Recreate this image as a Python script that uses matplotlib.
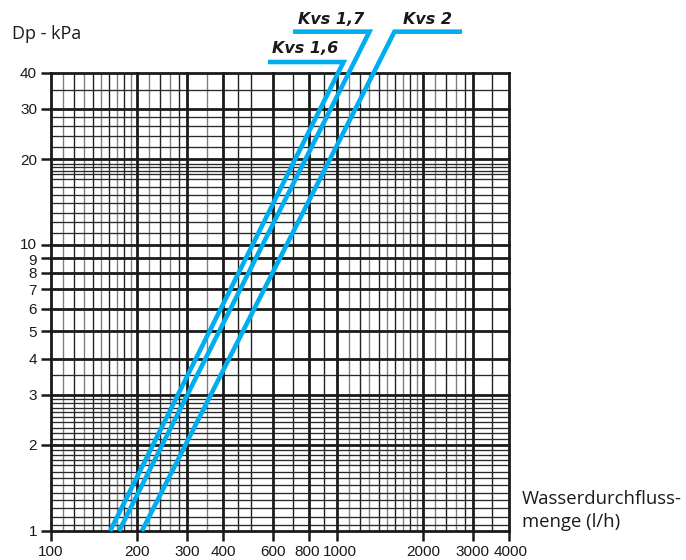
import matplotlib
matplotlib.use("Agg")
import matplotlib.pyplot as plt
import matplotlib.transforms as mtransforms

# ---- data ----
x_ticks = [100, 200, 300, 400, 600, 800, 1000, 2000, 3000, 4000]
y_ticks = [1, 2, 3, 4, 5, 6, 7, 8, 9, 10, 20, 30, 40]

x_minor_dark = [120, 140, 160, 180, 240, 280, 450, 500, 700, 900,
                1200, 1400, 1600, 1800, 2400, 2800, 3500]
x_minor_gray = [110, 130, 150, 170, 190, 220, 260, 350,
                1100, 1300, 1500, 1700, 1900, 2200, 2600]
y_minor = [1.05, 1.12, 1.2, 1.28, 1.36, 1.45, 1.53, 1.61, 1.7, 1.77, 1.84, 1.92,
           2.1, 2.2, 2.3, 2.4, 2.5, 2.6, 2.7, 2.8, 2.9, 3.5,
           11, 12, 13, 14, 15, 16, 17, 17.7, 18.2, 18.7, 19.2,
           22, 24, 26, 28, 35]

series_names = ["Kvs 1,6", "Kvs 1,7", "Kvs 2"]
# curve from Dp=1 to top, then leader corner and leader end
flow_16 = [161, 1055, 574]
dp_16 = [1, 43.7, 43.7]
flow_17 = [173, 1300, 702]
dp_17 = [1, 55.8, 55.8]
flow_2 = [208, 1590, 2740]
dp_2 = [1, 55.8, 55.8]
label_pos_q = [593, 731, 1703]
label_pos_dp = [47, 59.4, 59.4]

W, H = 686, 560
fig = plt.figure(figsize=(W / 100, H / 100), dpi=100)
ax = fig.add_axes([51 / W, 29 / H, 458 / W, 458 / H])
ax.set_xscale("log")
ax.set_yscale("log")
ax.set_xlim(100, 4000)
ax.set_ylim(1, 40)
for s in ax.spines.values():
    s.set_visible(False)

# grid
for v in x_minor_gray:
    ax.axvline(v, color="#808080", lw=1.0, zorder=1)
for v in x_minor_dark:
    ax.axvline(v, color="#222222", lw=1.0, zorder=1)
for v in y_minor:
    ax.axhline(v, color="#2a2a2a", lw=0.95, zorder=1)
for v in x_ticks:
    ax.axvline(v, color="#1a1a1a", lw=2.0, zorder=2, clip_on=False)
for v in y_ticks:
    ax.axhline(v, color="#1a1a1a", lw=2.0, zorder=2, clip_on=False)

# ticks
ax.set_xticks(x_ticks)
ax.set_xticklabels([str(v) for v in x_ticks])
ax.set_yticks(y_ticks)
ax.set_yticklabels([str(v) for v in y_ticks])
ax.minorticks_off()
ax.tick_params(axis="both", direction="out", length=7, width=1.8,
               color="#1a1a1a", labelsize=11, pad=3)
for lab in ax.get_xticklabels() + ax.get_yticklabels():
    lab.set_fontfamily("Liberation Sans")
    lab.set_color("#1a1a1a")

# small nudges for crowded labels
nudge = {"800": -2, "1000": 3, "3000": -1, "4000": 2}
for lab in ax.get_xticklabels():
    dx = nudge.get(lab.get_text(), 0)
    if dx:
        lab.set_transform(lab.get_transform() +
                          mtransforms.ScaledTranslation(dx / 100, 0, fig.dpi_scale_trans))
ynudge = {"9": -1.5, "10": 1.5}
for lab in ax.get_yticklabels():
    dy = ynudge.get(lab.get_text(), 0)
    if dy:
        lab.set_transform(lab.get_transform() +
                          mtransforms.ScaledTranslation(0, dy / 100, fig.dpi_scale_trans))

# curves
blue = "#00AEEF"
for fq, dp in [(flow_16, dp_16), (flow_17, dp_17), (flow_2, dp_2)]:
    ax.plot(fq, dp, color=blue, lw=3.3, solid_capstyle="butt",
            solid_joinstyle="miter", zorder=5, clip_on=False)

for name, q, d in zip(series_names, label_pos_q, label_pos_dp):
    ax.text(q, d, name, ha="left", va="baseline", fontsize=11.5,
            fontweight="bold", fontstyle="italic", family="DejaVu Sans",
            color="#1a1a1a", clip_on=False)

fig.text(12 / W, 1 - 39 / H, "Dp - kPa", fontsize=13, family="Open Sans",
         ha="left", va="baseline", color="#1a1a1a")
fig.text(522 / W, 1 - 504 / H, "Wasserdurchfluss-", fontsize=13.3,
         family="Open Sans", ha="left", va="baseline", color="#1a1a1a")
fig.text(522 / W, 1 - 527 / H, "menge (l/h)", fontsize=13.3,
         family="Open Sans", ha="left", va="baseline", color="#1a1a1a")

fig.savefig("out.png", dpi=100)
